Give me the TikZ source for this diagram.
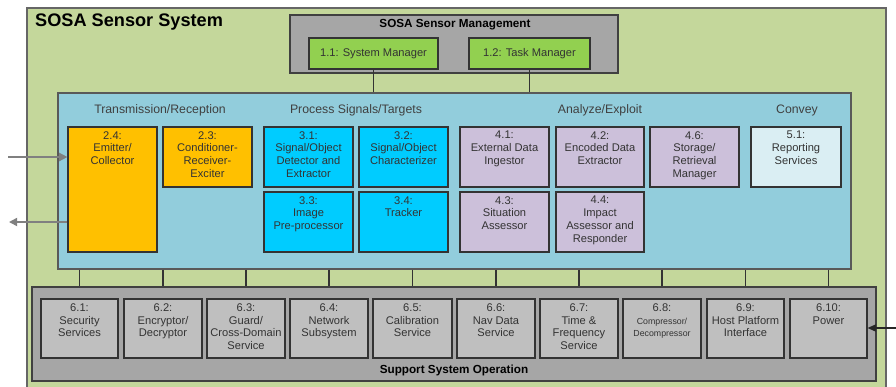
\documentclass[tikz,border=0pt]{standalone}
\usepackage{fontspec}
\setmainfont{Liberation Sans}
\usetikzlibrary{positioning,fit,arrows.meta}
\definecolor{sysgreen}{HTML}{C4D79B}
\definecolor{mgmtgray}{HTML}{A6A6A6}
\definecolor{mgrgreen}{HTML}{92D050}
\definecolor{panelblue}{HTML}{92CDDC}
\definecolor{txorange}{HTML}{FFC000}
\definecolor{sigcyan}{HTML}{00CCFF}
\definecolor{anlilac}{HTML}{CCC0DA}
\definecolor{cvpale}{HTML}{DAEEF3}
\definecolor{supgray}{HTML}{BFBFBF}
\tikzset{
  frame/.style={draw=black!60, line width=1pt, inner sep=0pt},
  box/.style={draw=black!80, line width=1pt, inner sep=0pt},
  boxtext/.style={align=center, font=\fontsize{9.5}{11}\selectfont, text=black!80, inner sep=0pt},
  sectitle/.style={font=\fontsize{10.5}{12}\selectfont, text=black!75, inner sep=0pt},
  bartitle/.style={font=\fontsize{10}{12}\selectfont\bfseries, inner sep=0pt},
  link/.style={draw=black!80, line width=1pt},
  grayarrow/.style={draw=black!50, line width=1.3pt, -{Triangle[length=7pt,width=7pt]}},
}

\begin{document}
\begin{tikzpicture}[x=0.03cm, y=-0.03cm]
	\clip (0,0) rectangle (896,386);
	\fill[white] (0,0) rectangle (896,386);
	% outer system
	\node[frame, fill=sysgreen, fit={(27,8) (886,392)}] (sys) {};
	\node[anchor=west, inner sep=0pt, font=\fontsize{15.5}{18}\selectfont\bfseries] (systitle) at (35,22) {SOSA Sensor System};
	% management
	\node[frame, draw=black!75, fill=mgmtgray, fit={(290,15) (618,73)}] (mgmt) {};
	\node[bartitle] (mgmttitle) at (455,25) {SOSA Sensor Management};
	\node[box, fill=mgrgreen, fit={(309,38) (438,69)}] (b11) {};
	\node[boxtext] (t11) at (b11) {1.1: System Manager};
	\node[box, fill=mgrgreen, fit={(469,38) (590,69)}] (b12) {};
	\node[boxtext] (t12) at (b12) {1.2: Task Manager};
	% mission panel
	\node[frame, draw=black!65, fill=panelblue, fit={(58,93) (851,269)}] (panel) {};
	\draw[link] (b11.south) -- (b11.south |- panel.north);
	\draw[link] (b12.south) -- (b12.south |- panel.north);
	\node[sectitle] (trx) at (160,110) {Transmission/Reception};
	\node[sectitle] (pst) at (356,110) {Process Signals/Targets};
	\node[sectitle] (ane) at (600,110) {Analyze/Exploit};
	\node[sectitle] (cnv) at (797,110) {Convey};
	\node[box, fill=txorange, fit={(68,127) (157,252)}] (b24) {};
	\node[boxtext, below=4pt of b24.north] (t24) {2.4:\\Emitter/\\Collector};
	\node[box, fill=txorange, fit={(163,127) (252,187)}] (b23) {};
	\node[boxtext, below=4pt of b23.north] (t23) {2.3:\\Conditioner-\\Receiver-\\Exciter};
	\node[box, fill=sigcyan, fit={(264,127) (353,187)}] (b31) {};
	\node[boxtext, below=4pt of b31.north] (t31) {3.1:\\Signal/Object\\Detector and\\Extractor};
	\node[box, fill=sigcyan, fit={(359,127) (448,187)}] (b32) {};
	\node[boxtext, below=4pt of b32.north] (t32) {3.2:\\Signal/Object\\Characterizer};
	\node[box, fill=sigcyan, fit={(264,192) (353,252)}] (b33) {};
	\node[boxtext, below=4pt of b33.north] (t33) {3.3:\\Image\\Pre-processor};
	\node[box, fill=sigcyan, fit={(359,192) (448,252)}] (b34) {};
	\node[boxtext, below=4pt of b34.north] (t34) {3.4:\\Tracker};
	\node[box, fill=anlilac, fit={(460,127) (549,187)}] (b41) {};
	\node[boxtext, below=4pt of b41.north] (t41) {4.1:\\External Data\\Ingestor};
	\node[box, fill=anlilac, fit={(556,127) (644,187)}] (b42) {};
	\node[boxtext, below=4pt of b42.north] (t42) {4.2:\\Encoded Data\\Extractor};
	\node[box, fill=anlilac, fit={(650,127) (739,187)}] (b46) {};
	\node[boxtext, below=4pt of b46.north] (t46) {4.6:\\Storage/\\Retrieval\\Manager};
	\node[box, fill=anlilac, fit={(460,192) (549,252)}] (b43) {};
	\node[boxtext, below=4pt of b43.north] (t43) {4.3:\\Situation\\Assessor};
	\node[box, fill=anlilac, fit={(556,192) (644,252)}] (b44) {};
	\node[boxtext, below=4pt of b44.north] (t44) {4.4:\\Impact\\Assessor and\\Responder};
	\node[box, fill=cvpale, fit={(751,127) (841,187)}] (b51) {};
	\node[boxtext, below=4pt of b51.north] (t51) {5.1:\\Reporting\\Services};
	% support operation
	\node[frame, draw=black!75, fill=mgmtgray, fit={(32,287) (876,381)}] (sup) {};
	\node[bartitle] (suptitle) at (454,370) {Support System Operation};
	\node[box, fill=supgray, fit={(41,299) (118,358)}] (b61) {};
	\node[boxtext, below=4pt of b61.north] (t61) {6.1:\\Security\\Services};
	\node[box, fill=supgray, fit={(124,299) (202,358)}] (b62) {};
	\node[boxtext, below=4pt of b62.north] (t62) {6.2:\\Encryptor/\\Decryptor};
	\node[box, fill=supgray, fit={(207,299) (285,358)}] (b63) {};
	\node[boxtext, below=4pt of b63.north] (t63) {6.3:\\Guard/\\Cross-Domain\\Service};
	\node[box, fill=supgray, fit={(290,299) (368,358)}] (b64) {};
	\node[boxtext, below=4pt of b64.north] (t64) {6.4:\\Network\\Subsystem};
	\node[box, fill=supgray, fit={(373,299) (452,358)}] (b65) {};
	\node[boxtext, below=4pt of b65.north] (t65) {6.5:\\Calibration\\Service};
	\node[box, fill=supgray, fit={(457,299) (535,358)}] (b66) {};
	\node[boxtext, below=4pt of b66.north] (t66) {6.6:\\Nav Data\\Service};
	\node[box, fill=supgray, fit={(540,299) (618,358)}] (b67) {};
	\node[boxtext, below=4pt of b67.north] (t67) {6.7:\\Time \&\\Frequency\\Service};
	\node[box, fill=supgray, fit={(623,299) (701,358)}] (b68) {};
	\node[boxtext, below=4pt of b68.north] (t68) {6.8:\\\fontsize{7.5}{10}\selectfont Compressor/\\\fontsize{7.5}{10}\selectfont Decompressor};
	\node[box, fill=supgray, fit={(707,299) (784,358)}] (b69) {};
	\node[boxtext, below=4pt of b69.north] (t69) {6.9:\\Host Platform\\Interface};
	\node[box, fill=supgray, fit={(790,299) (867,358)}] (b610) {};
	\node[boxtext, below=4pt of b610.north] (t610) {6.10:\\Power};
	% panel to support links
	\draw[link] (panel.south -| b61) -- (sup.north -| b61);
	\draw[link] (panel.south -| b62) -- (sup.north -| b62);
	\draw[link] (panel.south -| b63) -- (sup.north -| b63);
	\draw[link] (panel.south -| b64) -- (sup.north -| b64);
	\draw[link] (panel.south -| b65) -- (sup.north -| b65);
	\draw[link] (panel.south -| b66) -- (sup.north -| b66);
	\draw[link] (panel.south -| b67) -- (sup.north -| b67);
	\draw[link] (panel.south -| b68) -- (sup.north -| b68);
	\draw[link] (panel.south -| b69) -- (sup.north -| b69);
	\draw[link] (panel.south -| b610) -- (sup.north -| b610);
	% external interfaces
	\coordinate (rxin) at (8,157);
	\coordinate (txout) at (9,222);
	\coordinate (pwrin) at (897,328);
	\draw[grayarrow] (rxin) -- (rxin -| b24.west);
	\draw[grayarrow] (txout -| b24.west) -- (txout);
	\draw[draw=black!85, line width=1pt, -{Triangle[length=7pt,width=6pt]}] (pwrin) -- (pwrin -| b610.east);
\end{tikzpicture}
\end{document}
